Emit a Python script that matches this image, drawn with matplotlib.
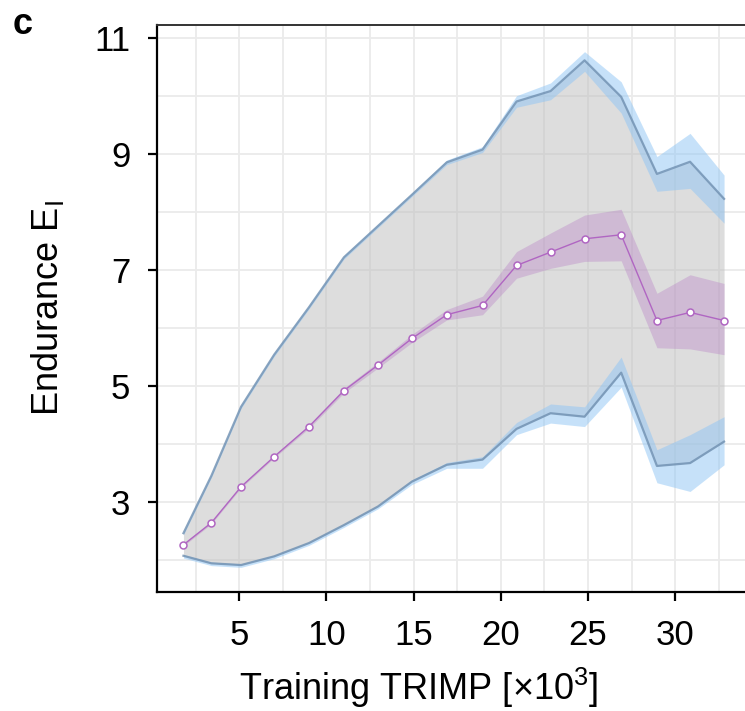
import matplotlib
matplotlib.use("Agg")
import matplotlib.pyplot as plt
from matplotlib.ticker import FixedLocator

plt.rcParams['font.family'] = ['Liberation Sans', 'DejaVu Sans']
plt.rcParams['mathtext.fontset'] = 'custom'
plt.rcParams['mathtext.rm'] = 'Liberation Sans'
plt.rcParams['mathtext.it'] = 'Liberation Sans:italic'

# Training load bins (x10^3 TRIMP)
trimp = [1.8, 3.4, 5.1, 7.0, 9.0, 11.0, 12.95, 14.9, 16.9, 18.95, 20.9, 22.85, 24.8, 26.9, 28.95, 30.85, 32.8]

# Mean endurance with its confidence band
mean_e = [2.26, 2.64, 3.26, 3.78, 4.30, 4.92, 5.36, 5.82, 6.23, 6.39, 7.08, 7.31, 7.54, 7.61, 6.13, 6.27, 6.13]
mean_lo = [2.24, 2.62, 3.24, 3.76, 4.27, 4.88, 5.31, 5.75, 6.14, 6.23, 6.86, 7.03, 7.15, 7.16, 5.66, 5.64, 5.54]
mean_hi = [2.28, 2.66, 3.28, 3.80, 4.33, 4.96, 5.41, 5.89, 6.32, 6.55, 7.32, 7.64, 7.95, 8.05, 6.60, 6.92, 6.77]

# Upper envelope with its band
upper_e = [2.46, 3.45, 4.64, 5.54, 6.36, 7.22, 7.76, 8.30, 8.86, 9.08, 9.91, 10.09, 10.62, 9.99, 8.66, 8.87, 8.23]
upper_lo = [2.43, 3.42, 4.61, 5.51, 6.33, 7.19, 7.73, 8.27, 8.82, 9.03, 9.81, 9.94, 10.43, 9.71, 8.36, 8.41, 7.81]
upper_hi = [2.49, 3.48, 4.67, 5.57, 6.39, 7.25, 7.79, 8.33, 8.90, 9.13, 10.01, 10.23, 10.77, 10.25, 8.96, 9.36, 8.64]

# Lower envelope with its band
lower_e = [2.07, 1.94, 1.91, 2.06, 2.29, 2.60, 2.92, 3.35, 3.64, 3.73, 4.26, 4.53, 4.47, 5.23, 3.62, 3.67, 4.04]
lower_lo = [2.03, 1.90, 1.87, 2.02, 2.25, 2.56, 2.88, 3.30, 3.58, 3.58, 4.16, 4.36, 4.30, 4.98, 3.33, 3.18, 3.64]
lower_hi = [2.09, 1.96, 1.93, 2.08, 2.31, 2.62, 2.94, 3.38, 3.68, 3.78, 4.37, 4.69, 4.64, 5.50, 3.90, 4.16, 4.47]

x_ticks = [5, 10, 15, 20, 25, 30]
y_ticks = [3, 5, 7, 9, 11]

W, H = 745, 711
left_px, bottom_px, top_px = 157.3, 591.7, 25
fig = plt.figure(figsize=(W / 100, H / 100), dpi=100)
ax = fig.add_axes([left_px / W, 1 - bottom_px / H, (W - left_px) / W, (bottom_px - top_px) / H])

ax.set_xlim(0.3, 34.0)
ax.set_ylim(1.45, 11.23)

ax.xaxis.set_major_locator(FixedLocator(x_ticks))
ax.xaxis.set_minor_locator(FixedLocator([2.5, 7.5, 12.5, 17.5, 22.5, 27.5, 32.5]))
ax.yaxis.set_major_locator(FixedLocator(y_ticks))
ax.yaxis.set_minor_locator(FixedLocator([2, 4, 6, 8, 10]))
ax.grid(True, which='both', color='#ebebeb', lw=1.3, zorder=0)
ax.set_axisbelow(True)

# Envelope between lowest and highest endurance
ax.fill_between(trimp, lower_e, upper_e, color='#bdbdbd', alpha=0.5, lw=0, zorder=1)

blue = '#8ec5f5'
ax.fill_between(trimp, upper_lo, upper_hi, color=blue, alpha=0.5, lw=0, zorder=2)
ax.fill_between(trimp, lower_lo, lower_hi, color=blue, alpha=0.5, lw=0, zorder=2)
ax.plot(trimp, upper_e, color='#6f8fb0', alpha=0.8, lw=1.6, zorder=3)
ax.plot(trimp, lower_e, color='#6f8fb0', alpha=0.8, lw=1.6, zorder=3)

ax.fill_between(trimp, mean_lo, mean_hi, color='#b57bc4', alpha=0.35, lw=0, zorder=4)
ax.plot(trimp, mean_e, color='#b066c2', lw=1.0, marker='o', ms=5, mew=1.1,
        mfc='white', mec='#b066c2', zorder=5)

for side in ['left', 'bottom']:
    ax.spines[side].set_linewidth(1.6)
    ax.spines[side].set_color('black')
ax.spines['top'].set_linewidth(1.4)
ax.spines['top'].set_color('#333333')
ax.spines['right'].set_visible(False)

ax.tick_params(which='major', direction='out', length=6.5, width=1.6, color='black',
               labelsize=25, pad=13)
ax.tick_params(which='minor', length=0)
ax.set_xticklabels([str(v) for v in x_ticks])
ax.set_yticklabels([str(v) for v in y_ticks])

ax.set_xlabel('Training TRIMP [×10$^3$]', fontsize=26)
ax.xaxis.set_label_coords((419 - left_px) / (W - left_px), -(666 - bottom_px) / (bottom_px - top_px))
ax.set_ylabel('Endurance E$_\\mathrm{I}$', fontsize=26, labelpad=20)

fig.text(13 / W, 1 - 24 / H, 'c', fontsize=26, fontweight='bold', va='center', ha='left')

fig.savefig('out.png', dpi=100)
